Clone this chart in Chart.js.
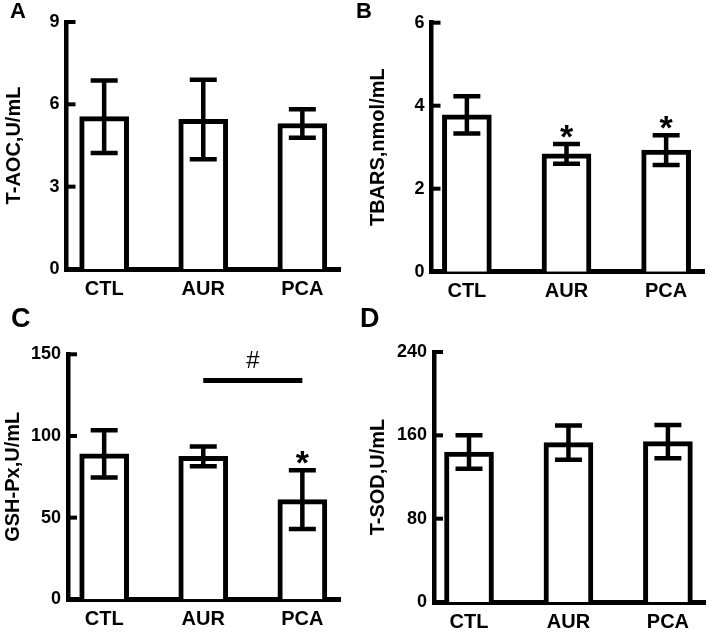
<!DOCTYPE html>
<html>
<head>
<meta charset="utf-8">
<script src="https://cdn.jsdelivr.net/npm/chart.js@4.4.1/dist/chart.umd.min.js"></script>
<style>
  body { margin: 0; background: #fff; }
  #fig { position: relative; width: 709px; height: 633px; overflow: hidden; }
  #fig canvas { position: absolute; }
  .tag { position: absolute; font-family: 'Liberation Sans', Arial, sans-serif; font-weight: bold; line-height: 1; color: #000; }
</style>
</head>
<body>
<div id="fig">
  <canvas id="panelA" width="354" height="316" style="left:0;top:0"></canvas>
  <canvas id="panelB" width="355" height="316" style="left:354px;top:0"></canvas>
  <canvas id="panelC" width="354" height="317" style="left:0;top:316px"></canvas>
  <canvas id="panelD" width="355" height="317" style="left:354px;top:316px"></canvas>
  <div class="tag" style="left:10px;top:0px;font-size:22px">A</div>
  <div class="tag" style="left:356px;top:0px;font-size:22px">B</div>
  <div class="tag" style="left:11px;top:305px;font-size:27px">C</div>
  <div class="tag" style="left:360px;top:305px;font-size:27px">D</div>
</div>
<script>
const categories = ['CTL', 'AUR', 'PCA'];

// mean and SD per group
const taocMean = [5.55, 5.45, 5.3];
const taocSd = [1.32, 1.45, 0.52];
const tbarsMean = [3.78, 2.84, 2.93];
const tbarsSd = [0.45, 0.24, 0.36];
const gshpxMean = [89, 87.5, 61];
const gshpxSd = [14.5, 6, 18];
const tsodMean = [144, 153, 154];
const tsodSd = [16, 16.5, 16];

const taocTicks = [0, 3, 6, 9];
const tbarsTicks = [0, 2, 4, 6];
const gshpxTicks = [0, 50, 100, 150];
const tsodTicks = [0, 80, 160, 240];

// significance marks
const tbarsStars = [false, true, true];
const gshpxStars = [false, false, true];
const gshpxBracket = { from: 1, to: 2, value: 134, text: '#' };

const FONT = "'Liberation Sans', Arial, sans-serif";

function makePanel(id, p) {
  const canvas = document.getElementById(id);
  const W = canvas.width, H = canvas.height;

  const decor = {
    id: 'decor',
    afterDatasetsDraw(chart) {
      const ctx = chart.ctx;
      const xs = chart.scales.x, ys = chart.scales.y;
      ctx.save();
      ctx.strokeStyle = '#000';
      ctx.fillStyle = '#000';

      // inward tick marks
      ctx.lineWidth = 4;
      p.ticks.forEach(v => {
        if (v === p.ticks[0]) return;
        const y = ys.getPixelForValue(v);
        ctx.beginPath();
        ctx.moveTo(xs.left, y);
        ctx.lineTo(xs.left + 9, y);
        ctx.stroke();
      });

      // error bars
      ctx.lineWidth = 4.5;
      p.mean.forEach((m, i) => {
        const x = xs.getPixelForValue(i);
        const t = ys.getPixelForValue(m + p.sd[i]);
        const b = ys.getPixelForValue(m - p.sd[i]);
        ctx.beginPath();
        ctx.moveTo(x, t);
        ctx.lineTo(x, b);
        ctx.moveTo(x - 13.5, t);
        ctx.lineTo(x + 13.5, t);
        ctx.moveTo(x - 13.5, b);
        ctx.lineTo(x + 13.5, b);
        ctx.stroke();
      });

      // asterisks
      if (p.stars) {
        ctx.font = 'bold 34px ' + FONT;
        ctx.textAlign = 'center';
        ctx.textBaseline = 'alphabetic';
        p.stars.forEach((s, i) => {
          if (!s) return;
          const x = xs.getPixelForValue(i);
          const t = ys.getPixelForValue(p.mean[i] + p.sd[i]);
          ctx.fillText('*', x, t + 4);
        });
      }

      // bracket
      if (p.bracket) {
        const bk = p.bracket;
        const y = ys.getPixelForValue(bk.value);
        const x1 = xs.getPixelForValue(bk.from);
        const x2 = xs.getPixelForValue(bk.to);
        ctx.lineWidth = 5;
        ctx.beginPath();
        ctx.moveTo(x1, y);
        ctx.lineTo(x2, y);
        ctx.stroke();
        ctx.font = '24px ' + FONT;
        ctx.textAlign = 'center';
        ctx.textBaseline = 'alphabetic';
        ctx.fillText(bk.text, (x1 + x2) / 2, y - 12);
      }
      ctx.restore();
    }
  };

  return new Chart(canvas.getContext('2d'), {
    type: 'bar',
    data: {
      datasets: [{
        data: p.mean.map((v, i) => ({ x: i, y: v })),
        backgroundColor: '#fff',
        borderColor: '#000',
        borderWidth: 5,
        barThickness: 49
      }]
    },
    options: {
      responsive: false,
      animation: false,
      devicePixelRatio: 1,
      layout: { padding: { top: p.box.top, right: W - p.box.right, left: 0, bottom: 0 } },
      plugins: { legend: { display: false }, tooltip: { enabled: false } },
      scales: {
        x: {
          type: 'linear',
          min: p.xMin,
          max: 2.38,
          offset: false,
          grid: { display: false, drawTicks: false },
          border: { display: true, width: 5, color: '#000' },
          afterBuildTicks: s => { s.ticks = categories.map((c, i) => ({ value: i })); },
          afterFit: s => { s.height = H - p.box.bottom; },
          ticks: {
            autoSkip: false,
            maxRotation: 0,
            padding: 8,
            color: '#000',
            font: { family: FONT, size: 20, weight: 'bold' },
            callback: v => categories[v]
          }
        },
        y: {
          min: p.ticks[0],
          max: p.ticks[p.ticks.length - 1],
          grid: { display: false, drawTicks: false },
          border: { display: true, width: 4.5, color: '#000' },
          afterBuildTicks: s => { s.ticks = p.ticks.map(v => ({ value: v })); },
          afterFit: s => { s.width = p.box.left; },
          ticks: {
            padding: 7,
            color: '#000',
            font: { family: FONT, size: 18, weight: 'bold' }
          },
          title: {
            display: true,
            text: p.title,
            color: '#000',
            font: { family: FONT, size: 20, weight: 'bold', lineHeight: 1 },
            padding: { top: p.titleX - 10, bottom: 0 }
          }
        }
      }
    },
    plugins: [decor]
  });
}

makePanel('panelA', {
  title: 'T-AOC,U/mL', mean: taocMean, sd: taocSd, ticks: taocTicks,
  box: { left: 66.5, right: 340, top: 22, bottom: 269 }, xMin: -0.38, titleX: 14
});
makePanel('panelB', {
  title: 'TBARS,nmol/mL', mean: tbarsMean, sd: tbarsSd, ticks: tbarsTicks, stars: tbarsStars,
  box: { left: 77.5, right: 350, top: 22.7, bottom: 271.7 }, xMin: -0.355, titleX: 24.7
});
makePanel('panelC', {
  title: 'GSH-Px,U/mL', mean: gshpxMean, sd: gshpxSd, ticks: gshpxTicks, stars: gshpxStars, bracket: gshpxBracket,
  box: { left: 68, right: 340, top: 38.3, bottom: 283.3 }, xMin: -0.365, titleX: 13.5
});
makePanel('panelD', {
  title: 'T-SOD,U/mL', mean: tsodMean, sd: tsodSd, ticks: tsodTicks,
  box: { left: 80, right: 351.7, top: 36, bottom: 286 }, xMin: -0.352, titleX: 24
});
</script>
</body>
</html>
